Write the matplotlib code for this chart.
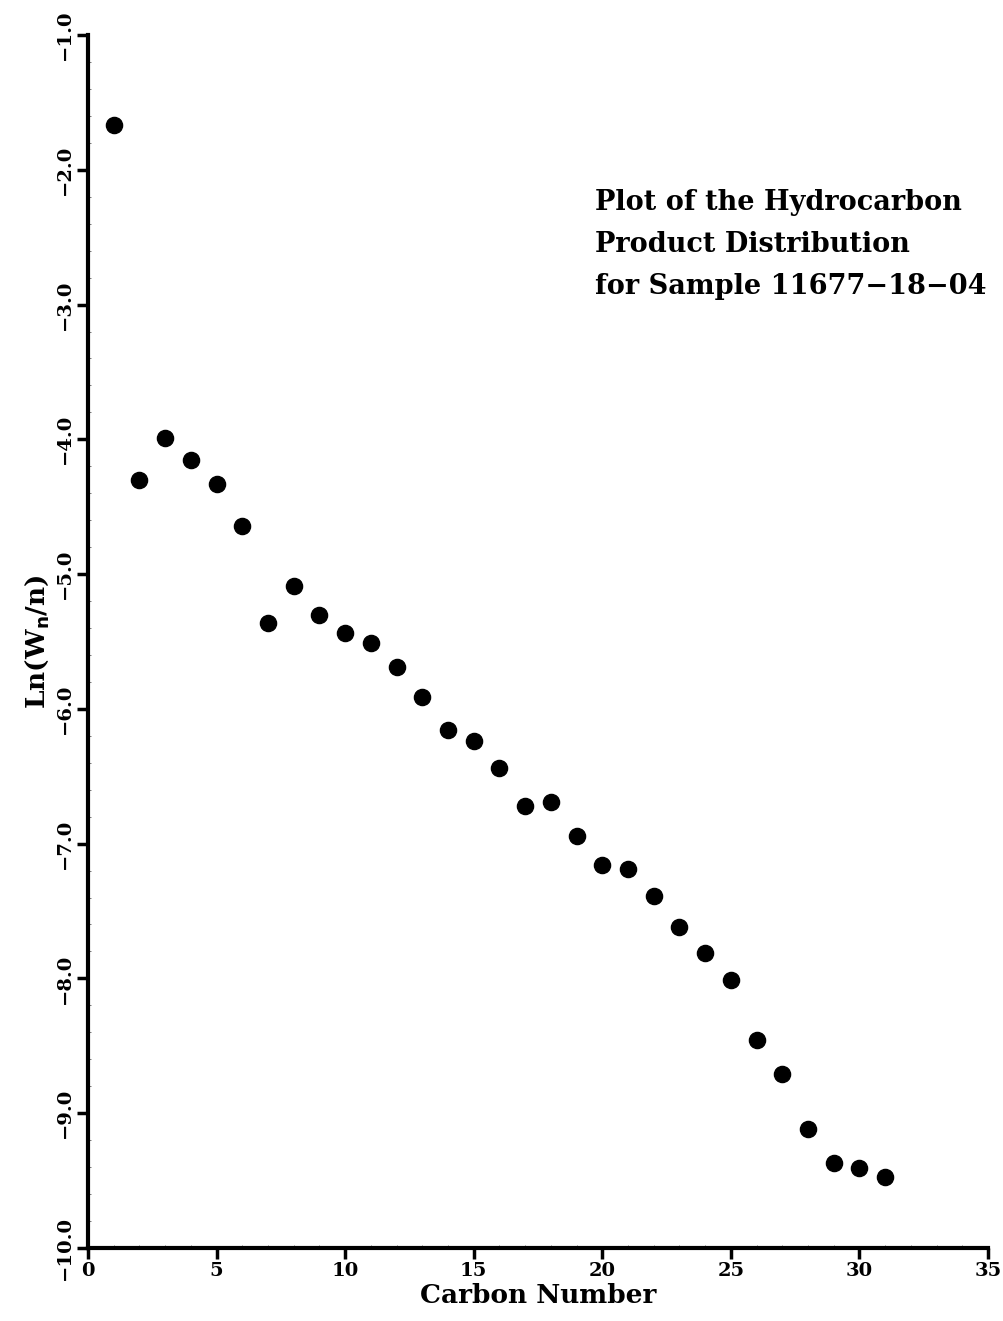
import numpy as np
import matplotlib.pyplot as plt

# Carbon number vs Ln(Wn/n)
carbon = [1, 2, 3, 4, 5, 6, 7, 8, 9, 10, 11, 12, 13, 14, 15, 16,
          17, 18, 19, 20, 21, 22, 23, 24, 25, 26, 27, 28, 29, 30, 31]
ln_wn = [-1.67, -4.30, -3.99, -4.15, -4.33, -4.64, -5.36, -5.09, -5.30, -5.44,
         -5.51, -5.69, -5.91, -6.16, -6.24, -6.44, -6.72, -6.69, -6.94, -7.16,
         -7.19, -7.39, -7.62, -7.81, -8.01, -8.46, -8.71, -9.12, -9.37, -9.41,
         -9.47]

xticks = [0, 5, 10, 15, 20, 25, 30, 35]
yticks = [-1.0, -2.0, -3.0, -4.0, -5.0, -6.0, -7.0, -8.0, -9.0, -10.0]

plt.rcParams['font.family'] = 'DejaVu Serif'
plt.rcParams['font.weight'] = 'bold'

fig = plt.figure(figsize=(10.04, 13.21), dpi=100)
ax = fig.add_axes([0.0876, 0.0553, 0.8964, 0.9182])

ax.scatter(carbon, ln_wn, s=135, color='black', zorder=3)

ax.set_xlim(0, 35)
ax.set_ylim(-10, -1)
ax.set_xticks(xticks)
ax.set_yticks(yticks)
ax.set_xticklabels([str(t) for t in xticks], fontsize=14, fontweight='bold')
ax.set_yticklabels([('%.1f' % t).replace('-', '\u2212') for t in yticks],
                   fontsize=14, fontweight='bold', rotation=90, va='center')
ax.tick_params(direction='out', length=8, width=2.5, color='black', pad=2)
ax.set_xticks(np.arange(0, 35.1, 1), minor=True)
ax.set_yticks(np.arange(-10, -0.9, 0.2), minor=True)
ax.tick_params(which='minor', direction='in', length=2.5, width=0.6, color='#666666')

for side in ['top', 'right']:
    ax.spines[side].set_visible(False)
for side in ['left', 'bottom']:
    ax.spines[side].set_linewidth(3)

ax.set_xlabel('Carbon Number', fontsize=19, fontweight='bold', labelpad=2)
ax.set_ylabel(r'Ln(W$_\mathbf{n}$/n)', fontsize=19, fontweight='bold', labelpad=4)

fig.text(0.593, 1 - 202 / 1321, 'Plot of the Hydrocarbon', fontsize=19.5,
         fontweight='bold', va='center')
fig.text(0.593, 1 - 244 / 1321, 'Product Distribution', fontsize=19.5,
         fontweight='bold', va='center')
fig.text(0.593, 1 - 287 / 1321, 'for Sample 11677\u221218\u221204', fontsize=19.5,
         fontweight='bold', va='center')

fig.savefig('out.png', dpi=100)
